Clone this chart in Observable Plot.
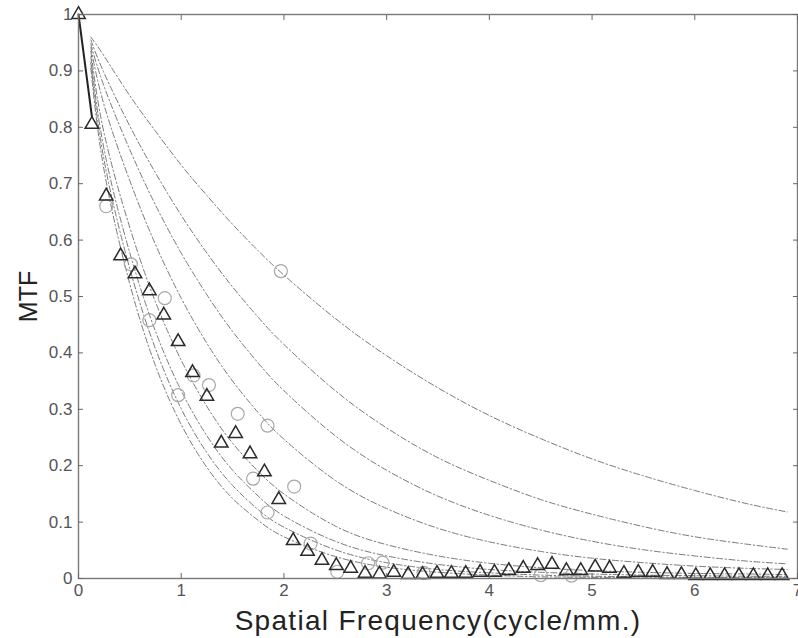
<!DOCTYPE html>
<html>
<head>
<meta charset="utf-8">
<script src="https://cdn.jsdelivr.net/npm/d3@7"></script>
<script src="https://cdn.jsdelivr.net/npm/@observablehq/plot@0.6"></script>
<style>
  html, body { margin: 0; padding: 0; background: #fff; }
  #chart { width: 798px; height: 638px; }
</style>
</head>
<body>
<div id="chart"></div>
<script>
// Tick values
const xTicks = [0, 1, 2, 3, 4, 5, 6, 7];
const yTicks = [0, 0.1, 0.2, 0.3, 0.4, 0.5, 0.6, 0.7, 0.8, 0.9, 1];

// Axis titles
const xTitle = "Spatial Frequency(cycle/mm.)";
const yTitle = "MTF";

// Model curves (dash-dot), sampled positions
const curveX = [0.12, 0.25, 0.5, 0.75, 1, 1.25, 1.5, 1.75, 2, 2.5, 3, 3.5, 4, 4.5, 5, 5.5, 6, 6.5, 6.9];
const curveA = [0.960, 0.926, 0.856, 0.793, 0.733, 0.679, 0.628, 0.581, 0.538, 0.461, 0.395, 0.338, 0.289, 0.248, 0.212, 0.182, 0.156, 0.133, 0.118];
const curveB = [0.955, 0.896, 0.802, 0.719, 0.644, 0.577, 0.517, 0.463, 0.415, 0.333, 0.267, 0.214, 0.174, 0.140, 0.114, 0.092, 0.074, 0.061, 0.052];
const curveC = [0.948, 0.872, 0.760, 0.662, 0.577, 0.503, 0.438, 0.382, 0.333, 0.253, 0.192, 0.146, 0.112, 0.086, 0.066, 0.051, 0.040, 0.031, 0.026];
const curveD = [0.942, 0.839, 0.705, 0.592, 0.497, 0.417, 0.350, 0.294, 0.247, 0.174, 0.124, 0.089, 0.065, 0.048, 0.036, 0.028, 0.022, 0.018, 0.016];
const curveE = [0.935, 0.789, 0.622, 0.490, 0.387, 0.305, 0.240, 0.190, 0.150, 0.093, 0.060, 0.040, 0.027, 0.019, 0.014, 0.011, 0.009, 0.008, 0.007];
const curveF = [0.925, 0.760, 0.577, 0.438, 0.333, 0.253, 0.192, 0.146, 0.111, 0.066, 0.040, 0.025, 0.016, 0.011, 0.008, 0.006, 0.005, 0.004, 0.004];
const curveG = [0.915, 0.741, 0.549, 0.407, 0.301, 0.223, 0.165, 0.122, 0.091, 0.051, 0.028, 0.016, 0.010, 0.006, 0.004, 0.003, 0.002, 0.002, 0.002];
const curveH = [0.905, 0.723, 0.522, 0.377, 0.273, 0.197, 0.142, 0.103, 0.074, 0.039, 0.020, 0.011, 0.006, 0.003, 0.002, 0.001, 0.001, 0.001, 0.001];

// Measured MTF (triangles)
const triX = [0, 0.13, 0.27, 0.41, 0.55, 0.69, 0.83, 0.97, 1.11, 1.25, 1.39, 1.53, 1.67, 1.81, 1.95, 2.09, 2.23, 2.37, 2.51, 2.65, 2.79, 2.93, 3.07, 3.21, 3.35, 3.49, 3.63, 3.77, 3.91, 4.05, 4.19, 4.33, 4.47, 4.61, 4.75, 4.89, 5.03, 5.17, 5.31, 5.45, 5.59, 5.73, 5.87, 6.01, 6.15, 6.29, 6.43, 6.57, 6.71, 6.85];
const triY = [1.0, 0.805, 0.678, 0.572, 0.540, 0.510, 0.467, 0.420, 0.365, 0.323, 0.240, 0.257, 0.221, 0.189, 0.140, 0.067, 0.048, 0.032, 0.023, 0.018, 0.009, 0.008, 0.011, 0.007, 0.007, 0.009, 0.009, 0.009, 0.011, 0.011, 0.014, 0.018, 0.023, 0.025, 0.014, 0.014, 0.020, 0.018, 0.009, 0.011, 0.011, 0.007, 0.007, 0.005, 0.005, 0.005, 0.005, 0.005, 0.005, 0.005];

// Measured MTF (circles)
const circX = [0.27, 0.51, 0.69, 0.84, 0.97, 1.12, 1.27, 1.55, 1.70, 1.84, 1.84, 1.97, 2.10, 2.26, 2.52, 2.82, 2.96, 3.36, 4.50, 4.80];
const circY = [0.660, 0.557, 0.458, 0.497, 0.325, 0.360, 0.343, 0.292, 0.177, 0.271, 0.117, 0.545, 0.163, 0.062, 0.012, 0.027, 0.028, 0.010, 0.006, 0.005];

// Initial steep segment
const leadX = [0, 0.13];
const leadY = [1.0, 0.82];

const curveNames = ["A", "B", "C", "D", "E", "F", "G", "H"];
const curveVals = [curveA, curveB, curveC, curveD, curveE, curveF, curveG, curveH];
const curves = curveVals.flatMap((vals, j) => curveX.map((x, i) => ({x, y: vals[i], k: curveNames[j]})));
const tris = triX.map((x, i) => ({x, y: triY[i]}));
const circs = circX.map((x, i) => ({x, y: circY[i]}));
const lead = leadX.map((x, i) => ({x, y: leadY[i]}));
const fmt = d => String(d);

const chart = Plot.plot({
  width: 798,
  height: 638,
  marginLeft: 78,
  marginRight: 1,
  marginTop: 14,
  marginBottom: 60,
  x: {domain: [0, 7]},
  y: {domain: [0, 1]},
  style: {fontFamily: "'Liberation Sans', Arial, Helvetica, sans-serif", background: "#fff", overflow: "visible"},
  marks: [
    Plot.line(curves, {x: "x", y: "y", z: "k", stroke: "#7a7a7a", strokeWidth: 1, strokeDasharray: "6,2.5,1.5,2.5", curve: "natural"}),
    Plot.line(lead, {x: "x", y: "y", stroke: "#222", strokeWidth: 2}),
    Plot.dot(circs, {x: "x", y: "y", r: 6.5, symbol: "circle", stroke: "#a8a8a8", strokeWidth: 1.2, fill: "none"}),
    Plot.dot(tris, {x: "x", y: "y", r: 5, symbol: "triangle", stroke: "#2a2a2a", strokeWidth: 1.5, fill: "none"}),
    Plot.frame({stroke: "#7a7a7a", strokeWidth: 1.4}),
    // inward ticks on all four sides (tick marks only)
    Plot.axisX({ticks: xTicks, anchor: "bottom", tickSize: 5, dy: -5, fill: "none", stroke: "#666", label: null}),
    Plot.axisX({ticks: xTicks, anchor: "top", tickSize: 5, dy: 5, fill: "none", stroke: "#666", label: null}),
    Plot.axisY({ticks: yTicks, anchor: "left", tickSize: 5, dx: 5, fill: "none", stroke: "#666", label: null}),
    Plot.axisY({ticks: yTicks, anchor: "right", tickSize: 5, dx: -5, fill: "none", stroke: "#666", label: null}),
    // tick labels
    Plot.axisX({ticks: xTicks, anchor: "bottom", tickSize: 0, tickPadding: 5, fontSize: 17, fill: "#555", stroke: "none", tickFormat: fmt, label: null}),
    Plot.axisY({ticks: yTicks, anchor: "left", tickSize: 0, tickPadding: 6, fontSize: 17, fill: "#555", stroke: "none", tickFormat: fmt, label: null}),
    // axis titles
    Plot.text([xTitle], {frameAnchor: "bottom", lineAnchor: "middle", textAnchor: "middle", dy: 43, fontSize: 28, fill: "#222"}),
    Plot.text([yTitle], {frameAnchor: "left", lineAnchor: "middle", textAnchor: "middle", dx: -50, rotate: -90, fontSize: 25, fill: "#222"})
  ]
});
// widen the x title slightly, like the reference lettering
d3.select(chart).selectAll("text").filter(function () { return this.textContent === xTitle; })
  .style("letter-spacing", "1.3px");
document.getElementById("chart").appendChild(chart);
</script>
</body>
</html>
